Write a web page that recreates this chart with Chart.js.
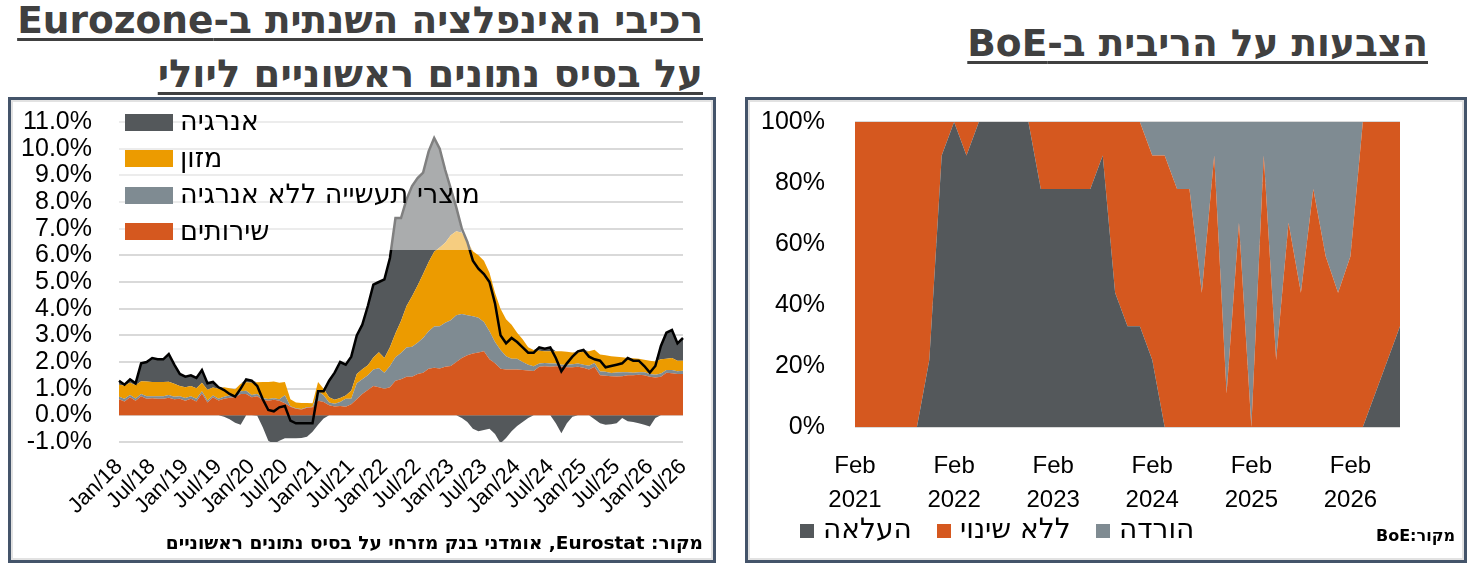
<!DOCTYPE html>
<html lang="he">
<head>
<meta charset="utf-8">
<script src="https://cdn.jsdelivr.net/npm/chart.js@4.4.1/dist/chart.umd.min.js"></script>
<style>
  body { margin:0; width:1474px; height:568px; background:#fff; position:relative; overflow:hidden;
         font-family:"DejaVu Sans", sans-serif; }
  .title { position:absolute; direction:rtl; text-align:right; font-weight:bold; color:#404040;
           text-decoration:underline; text-decoration-thickness:3px; text-underline-offset:5px;
           white-space:nowrap; line-height:1; }
  .panel { position:absolute; border:3px solid #44546a; box-sizing:border-box; background:#fff;
           box-shadow: inset 0 0 0 2px #e2e2e2; }
  canvas { position:absolute; }
  .src { position:absolute; direction:rtl; font-weight:bold; color:#000; white-space:nowrap; line-height:1; }
  .leg { position:absolute; color:#000; line-height:1; white-space:nowrap; }
  .leg .box { position:absolute; }
  .leg .txt { position:absolute; direction:rtl; }
</style>
</head>
<body>

<div class="title" style="right:771px; top:2px; font-size:37.5px;">רכיבי האינפלציה השנתית ב-Eurozone</div>
<div class="title" style="right:771px; top:55px; font-size:38.5px;">על בסיס נתונים ראשוניים ליולי</div>
<div class="title" style="right:46px; top:25px; font-size:37.5px;">הצבעות על הריבית ב-BoE</div>

<div class="panel" style="left:8px; top:97px; width:708px; height:466px;"></div>
<div class="panel" style="left:745px; top:97px; width:722px; height:466px;"></div>

<canvas id="inflChart" width="700" height="440" style="left:11px; top:100px;"></canvas>
<canvas id="boeChart" width="715" height="420" style="left:748px; top:100px;"></canvas>

<div id="inflLegend" class="leg" style="left:119px; top:104px; width:381px; height:146px; font-size:27px; background:rgba(255,255,255,0.5);"></div>
<div id="boeLegend" class="leg" style="left:0; top:0; font-size:28px;"></div>

<div class="src" style="right:771px; top:534px; font-size:18.5px;">מקור: Eurostat, אומדני בנק מזרחי על בסיס נתונים ראשוניים</div>
<div class="src" style="right:19px; top:528px; font-size:16px;">מקור:BoE</div>

<script>
// ---- אינפלציה ב-Eurozone: תרומות לאינפלציה השנתית (נק' אחוז), Jan/18 .. Jul/26
const monthNames = ['Jan','Feb','Mar','Apr','May','Jun','Jul','Aug','Sep','Oct','Nov','Dec'];
const yearSuffix = ['18','19','20','21','22','23','24','25','26'];

const services = [
  0.60,0.52,0.68,0.55,0.72,0.62,0.64,0.62,0.62,0.66,0.60,0.62,
  0.55,0.62,0.52,0.82,0.48,0.68,0.56,0.62,0.66,0.68,0.80,0.80,
  0.68,0.72,0.58,0.55,0.58,0.55,0.45,0.32,0.25,0.22,0.28,0.30,
  0.55,0.50,0.38,0.33,0.35,0.32,0.42,0.60,0.80,0.95,1.10,1.05,
  1.00,1.05,1.30,1.35,1.45,1.45,1.55,1.60,1.75,1.78,1.76,1.82,
  1.85,2.00,2.15,2.25,2.32,2.36,2.40,2.10,1.95,1.75,1.72,1.72,
  1.72,1.70,1.68,1.66,1.82,1.84,1.82,1.84,1.82,1.80,1.80,1.82,
  1.78,1.72,1.82,1.50,1.48,1.47,1.46,1.47,1.50,1.50,1.52,1.50,
  1.45,1.42,1.45,1.60,1.58,1.55,1.55
];
const goods = [
  0.10,0.10,0.08,0.08,0.08,0.10,0.08,0.10,0.10,0.10,0.10,0.10,
  0.10,0.10,0.10,0.08,0.08,0.06,0.06,0.08,0.08,0.08,0.10,0.12,
  0.08,0.08,0.06,0.06,0.06,0.05,0.30,0.02,0.02,0.02,0.02,0.02,
  0.35,0.25,0.10,0.10,0.15,0.30,0.20,0.60,0.55,0.55,0.62,0.72,
  0.60,0.80,0.88,0.99,1.09,1.12,1.17,1.30,1.40,1.55,1.58,1.65,
  1.72,1.75,1.65,1.50,1.40,1.30,1.10,1.05,0.80,0.70,0.50,0.40,
  0.40,0.30,0.22,0.18,0.12,0.12,0.12,0.10,0.08,0.10,0.12,0.12,
  0.12,0.14,0.14,0.14,0.15,0.12,0.15,0.15,0.12,0.10,0.10,0.12,
  0.10,0.10,0.12,0.10,0.12,0.10,0.12
];
const food = [
  0.45,0.50,0.46,0.50,0.48,0.55,0.53,0.53,0.53,0.50,0.48,0.38,
  0.40,0.38,0.40,0.32,0.40,0.30,0.38,0.35,0.28,0.22,0.28,0.32,
  0.46,0.44,0.61,0.64,0.63,0.62,0.50,0.26,0.21,0.22,0.16,0.13,
  0.35,0.25,0.20,0.15,0.15,0.12,0.30,0.35,0.38,0.38,0.45,0.60,
  0.55,0.70,0.90,1.20,1.56,1.90,2.15,2.40,2.60,2.80,2.95,3.00,
  3.18,3.15,3.05,2.80,2.43,2.34,2.30,2.20,1.85,1.55,1.38,1.28,
  0.98,0.85,0.65,0.61,0.48,0.44,0.46,0.46,0.50,0.48,0.44,0.42,
  0.48,0.54,0.50,0.64,0.62,0.63,0.59,0.56,0.53,0.54,0.50,0.46,
  0.50,0.50,0.53,0.42,0.45,0.40,0.38
];
const energy = [
  0.15,0.03,0.13,0.07,0.67,0.73,0.90,0.85,0.85,1.04,0.72,0.45,
  0.40,0.40,0.38,0.48,0.24,0.21,0.05,-0.05,-0.15,-0.28,-0.35,0.11,
  0.08,-0.02,-0.45,-0.95,-1.08,-0.95,-0.86,-0.86,-0.86,-0.85,-0.80,-0.62,
  -0.35,-0.12,0.62,1.02,1.35,1.16,1.28,1.45,1.67,2.22,2.73,2.63,
  2.95,3.35,4.32,3.86,4.00,4.13,4.03,3.80,4.15,4.27,3.71,2.73,
  1.75,0.90,-0.10,-0.25,-0.50,-0.60,-0.55,-0.50,-0.70,-1.05,-0.85,-0.60,
  -0.40,-0.25,-0.10,0.00,0.13,0.10,0.15,-0.30,-0.67,-0.30,-0.05,0.04,
  0.07,0.00,-0.15,-0.30,-0.35,-0.33,-0.30,-0.10,-0.22,-0.25,-0.30,-0.35,
  -0.42,-0.10,0.50,0.98,1.05,0.65,0.85
];
const headline = [
  1.30,1.15,1.35,1.20,1.95,2.00,2.15,2.10,2.10,2.30,1.90,1.55,
  1.45,1.50,1.40,1.70,1.20,1.25,1.05,0.95,0.80,0.70,1.00,1.35,
  1.30,1.10,0.60,0.20,0.15,0.30,0.35,-0.20,-0.30,-0.30,-0.30,-0.30,
  0.90,0.90,1.30,1.60,2.00,1.90,2.20,3.00,3.40,4.10,4.90,5.00,
  5.10,5.90,7.40,7.40,8.10,8.60,8.90,9.10,9.90,10.40,10.00,9.20,
  8.50,7.80,7.00,6.50,5.80,5.50,5.30,5.00,4.20,3.00,2.70,2.90,
  2.75,2.55,2.35,2.35,2.55,2.50,2.55,2.15,1.65,1.95,2.20,2.40,
  2.45,2.20,2.10,2.05,1.80,1.85,1.90,1.95,2.15,2.05,2.05,1.85,
  1.60,1.85,2.60,3.10,3.20,2.70,2.90
];
const inflNames = ['אנרגיה', 'מזון', 'מוצרי תעשייה ללא אנרגיה', 'שירותים'];

// ---- הצבעות ב-BoE (אחוז מחברי הוועדה)
const meetingYears = ['2021','2022','2023','2024','2025'];
const meetingMonths = ['Feb','Mar','May','Jun','Aug','Sep','Nov','Dec'];
const lastMeetings = ['Feb 2026','Mar 2026','Apr 2026','Jun 2026','Jul 2026'];
const hike = [0,0,0,0,0,0,22,89,100,89,100,100,100,100,100,78,78,78,78,78,89,44,33,33,22,
  0,0,0,0,0,0,0,0,0,0,0,0,0,0,0,0,0,11,22,33];
const hold = [100,100,100,100,100,100,78,11,0,11,0,0,0,0,0,22,22,22,22,22,11,56,67,67,67,
  89,78,78,44,89,11,67,0,89,22,67,44,78,56,44,56,100,89,78,67];
const cut = [0,0,0,0,0,0,0,0,0,0,0,0,0,0,0,0,0,0,0,0,0,0,0,0,11,
  11,22,22,56,11,89,33,100,11,78,33,56,22,44,56,44,0,0,0,0];
const boeNames = ['העלאה', 'ללא שינוי', 'הורדה'];

// צבעים
const cEnergy = '#54585b';
const cFood = '#ec9b00';
const cGoods = '#7f8b92';
const cServices = '#d5581f';

// תוויות חודשים
const months = [];
yearSuffix.forEach(y => monthNames.forEach(m => months.push(m + '/' + y)));
months.length = headline.length;

const meetings = [];
meetingYears.forEach(y => meetingMonths.forEach(m => meetings.push(m + ' ' + y)));
lastMeetings.forEach(m => meetings.push(m));

const tickFamily = '"Liberation Sans", Arial, sans-serif';

function area(label, data, color, fill, stack) {
    return {
        label: label, data: data, stack: stack, fill: fill,
        backgroundColor: color, borderColor: color, borderWidth: 0,
        pointRadius: 0, pointHoverRadius: 0, tension: 0
    };
}

// גרף אינפלציה
// (המרווח בין התוויות לציר ניתן דרך tickLength שקוף, כדי שלא יגדיל את הריפוד העליון)
new Chart(document.getElementById('inflChart'), {
    type: 'line',
    data: {
        labels: months,
        datasets: [
            { label: 'headline', data: headline, stack: 'hl', fill: false,
              borderColor: '#000', borderWidth: 2.5, pointRadius: 0, tension: 0 },
            area(inflNames[3], services, cServices, 'origin', 'pos'),
            area(inflNames[2], goods, cGoods, '-1', 'pos'),
            area(inflNames[1], food, cFood, '-1', 'pos'),
            area(inflNames[0], energy.map(v => Math.max(v, 0)), cEnergy, '-1', 'pos'),
            area(inflNames[0], energy.map(v => Math.min(v, 0)), cEnergy, 'origin', 'neg')
        ]
    },
    options: {
        responsive: false,
        animation: false,
        layout: { padding: { top: 22, right: 28, left: 0, bottom: 0 } },
        plugins: { legend: { display: false }, tooltip: { enabled: false } },
        scales: {
            x: {
                grid: { display: false },
                border: { display: false },
                ticks: {
                    autoSkip: false, maxRotation: 45, minRotation: 45, padding: 4,
                    color: '#000', font: { family: tickFamily, size: 22 },
                    callback: function (val, idx) { return idx % 6 === 0 ? months[idx] : null; }
                },
                afterFit: s => { s.height = 98; }
            },
            y: {
                stacked: true, min: -1, max: 11,
                grid: { color: '#d9d9d9', lineWidth: 2, drawTicks: true, tickLength: 27, tickColor: 'rgba(0,0,0,0)' },
                border: { display: false },
                ticks: {
                    stepSize: 1, autoSkip: false, padding: 0, color: '#000',
                    font: { family: tickFamily, size: 25 },
                    callback: v => v.toFixed(1) + '%'
                },
                afterFit: s => { s.width = 108; }
            }
        }
    }
});

// גרף הצבעות
new Chart(document.getElementById('boeChart'), {
    type: 'line',
    data: {
        labels: meetings,
        datasets: [
            area(boeNames[0], hike, cEnergy, 'origin', 'v'),
            area(boeNames[1], hold, cServices, '-1', 'v'),
            area(boeNames[2], cut, cGoods, '-1', 'v')
        ]
    },
    options: {
        responsive: false,
        animation: false,
        layout: { padding: { top: 22, right: 63, left: 0, bottom: 0 } },
        plugins: { legend: { display: false }, tooltip: { enabled: false } },
        scales: {
            x: {
                grid: { display: false },
                border: { display: false },
                ticks: {
                    autoSkip: false, maxRotation: 0, minRotation: 0, padding: 15,
                    color: '#000', font: { family: tickFamily, size: 24, lineHeight: 1.4 },
                    callback: function (val, idx) {
                        const lab = meetings[idx];
                        return lab.startsWith('Feb') ? lab.split(' ') : null;
                    }
                },
                afterFit: s => { s.height = 93; }
            },
            y: {
                stacked: true, min: 0, max: 100,
                grid: { color: '#d9d9d9', lineWidth: 2, drawTicks: true, tickLength: 30, tickColor: 'rgba(0,0,0,0)' },
                border: { display: false },
                ticks: {
                    stepSize: 20, autoSkip: false, padding: 0, color: '#000',
                    font: { family: tickFamily, size: 25 },
                    callback: v => v + '%'
                },
                afterFit: s => { s.width = 107; }
            }
        }
    }
});

// מקרא שמאלי (שכבה שקופה למחצה מעל הגרף)
const inflLeg = document.getElementById('inflLegend');
const inflColors = [cEnergy, cFood, cGoods, cServices];
inflNames.forEach((name, i) => {
    const cy = 18 + i * 36.5;
    inflLeg.insertAdjacentHTML('beforeend',
        `<div class="box" style="left:6px; top:${cy - 8.5}px; width:48px; height:17px; background:${inflColors[i]}"></div>` +
        `<div class="txt" style="left:61px; top:${cy - 15}px;">${name}</div>`);
});

// מקרא ימני
const boeLeg = document.getElementById('boeLegend');
const boeColors = [cEnergy, cServices, cGoods];
const boeLegX = [800, 937, 1096];
boeNames.forEach((name, i) => {
    boeLeg.insertAdjacentHTML('beforeend',
        `<div class="box" style="left:${boeLegX[i]}px; top:524px; width:14px; height:14px; background:${boeColors[i]}"></div>` +
        `<div class="txt" style="left:${boeLegX[i] + 23}px; top:515px;">${name}</div>`);
});
</script>
</body>
</html>
